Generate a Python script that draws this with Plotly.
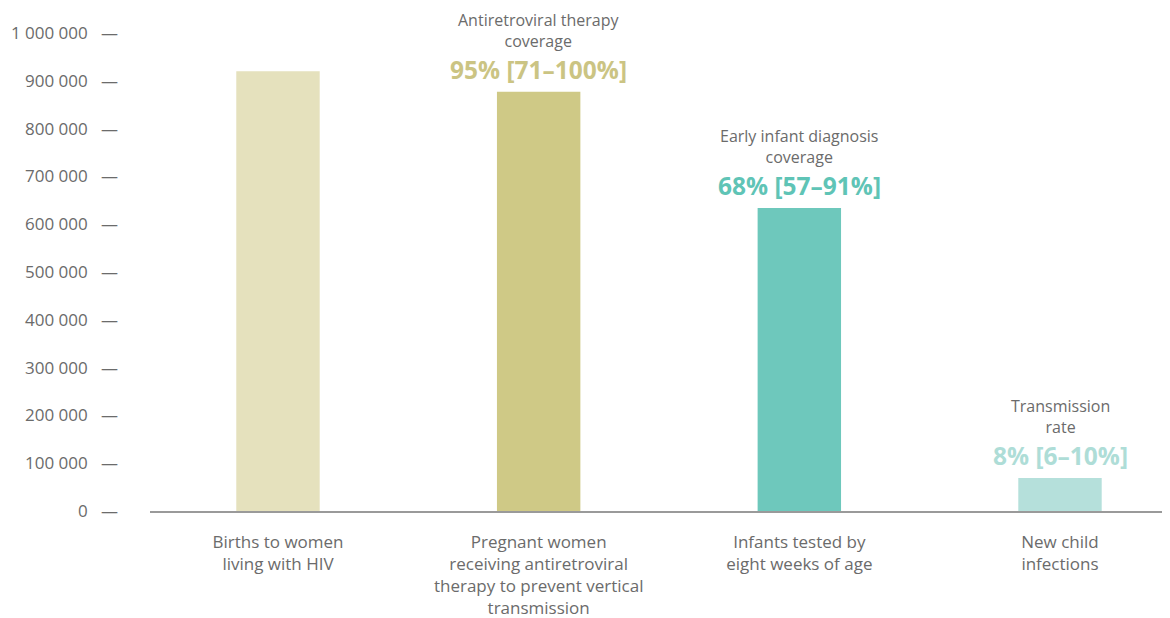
import plotly.graph_objects as go

categories = [
    "Births to women<br>living with HIV",
    "Pregnant women<br>receiving antiretroviral<br>therapy to prevent vertical<br>transmission",
    "Infants tested by<br>eight weeks of age",
    "New child<br>infections",
]
values = [920000, 877000, 634000, 69000]
bar_colors = ["#E5E1BD", "#CFC986", "#6EC8BC", "#B5E0DB"]

captions = [None, "Antiretroviral therapy<br>coverage", "Early infant diagnosis<br>coverage", "Transmission<br>rate"]
coverage = [None, "95% [71–100%]", "68% [57–91%]", "8% [6–10%]"]
coverage_colors = [None, "#CBC483", "#5FC4B6", "#AEDDD7"]

y_ticks = [0, 100000, 200000, 300000, 400000, 500000, 600000, 700000, 800000, 900000, 1000000]
y_ticktext = [f"{v:,}".replace(",", " ") + "   —" for v in y_ticks]

FONT = "'Open Sans', 'Noto Sans', sans-serif"
GRAY = "#6b6b6b"

x = list(range(len(categories)))
fig = go.Figure(go.Bar(x=x, y=values, marker=dict(color=bar_colors, line=dict(width=0)),
                       width=0.32, hoverinfo="skip"))

for i in x:
    if captions[i] is None:
        continue
    fig.add_annotation(x=i, y=values[i], text=captions[i], showarrow=False,
                       yanchor="bottom", yshift=39, borderpad=0,
                       font=dict(family=FONT, size=16, color=GRAY))
    fig.add_annotation(x=i, y=values[i], text=f"<b>{coverage[i]}</b>", showarrow=False,
                       yanchor="bottom", yshift=5, borderpad=0,
                       font=dict(family=FONT, size=24.5, color=coverage_colors[i]))

fig.update_layout(
    width=1162, height=610,
    margin=dict(l=142, r=0, t=25, b=107, autoexpand=False),
    paper_bgcolor="white", plot_bgcolor="white",
    showlegend=False,
    font=dict(family=FONT, color=GRAY, size=17),
    xaxis=dict(range=[-0.491, 3.422], tickvals=x, ticktext=categories,
               showgrid=False, zeroline=False, showline=True, linecolor="#9a9a9a", linewidth=1.5,
               ticks="", tickfont=dict(size=17, color=GRAY), ticklabelstandoff=15),
    yaxis=dict(range=[0, 1000000], tickvals=y_ticks, ticktext=y_ticktext,
               showgrid=False, zeroline=False, showline=False, ticks="",
               tickfont=dict(size=17, color=GRAY), ticklabelstandoff=31),
)

fig.write_html("out.html")
